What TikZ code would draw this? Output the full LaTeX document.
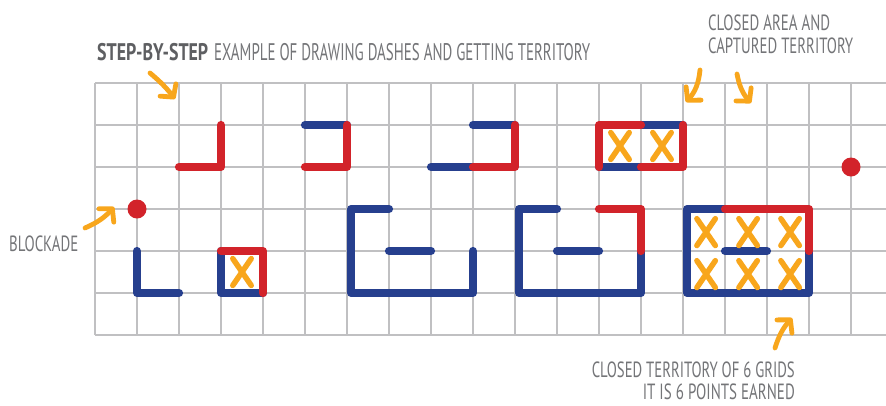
\documentclass[tikz,border=0pt]{standalone}
\usepackage{graphicx}
\usepackage{fontspec}
\setmainfont{PT Sans}
\usetikzlibrary{arrows.meta}
\definecolor{pred}{HTML}{D2232A}
\definecolor{pblue}{HTML}{263F8E}
\definecolor{porange}{HTML}{F8A61C}
\definecolor{gridgray}{HTML}{C0C0C2}
\definecolor{txtgray}{HTML}{747578}
\definecolor{ttlgray}{HTML}{5E5F62}
\begin{document}
\begin{tikzpicture}[x=1pt,y=-1pt,
  gridline/.style={draw=gridgray, line width=1.3pt},
  bl/.style={draw=pblue, line width=8.2pt, line cap=round, line join=round},
  rd/.style={draw=pred, line width=8.2pt, line cap=round, line join=round},
  xmark/.style={draw=porange, line width=5.5pt, line cap=round},
  xm/.pic={\draw[xmark] (-0.22,-0.32) -- (0.22,0.32) (-0.22,0.32) -- (0.22,-0.32);},
  note/.style={font=\fontsize{22}{24}\selectfont, text=txtgray, inner sep=0pt},
  ttl/.style={font=\fontsize{24}{26}\selectfont, inner sep=0pt},
  ann/.style={draw=porange, line width=4.8pt, line cap=round,
    -{Straight Barb[length=9pt,width=20pt,round]}},
  dot/.style={circle, fill=pred, minimum size=19pt, inner sep=0pt}
]
\fill[white] (0,0) rectangle (886,405);
\useasboundingbox (0,0) rectangle (886,405);

\begin{scope}[shift={(95pt,-83pt)}, x=42pt, y=-42pt]
  % grid
  \foreach \c in {0,...,18} \draw[gridline] (\c,0) -- (\c,6);
  \foreach \r in {0,...,6} \draw[gridline] (0,\r) -- (18.84,\r);

  % step 1: red corner
  \draw[rd] (2,2) -- (3,2) -- (3,1);
  % blue L
  \draw[bl] (1,4) -- (1,5) -- (2,5);
  % blockade dot
  \node[dot] (dot1) at (1,3) {};
  % small captured box
  \draw[bl] (3,4) -- (3,5) -- (4,5);
  \draw[rd] (3,4) -- (4,4) -- (4,5);
  \pic (x1) at (3.5,4.5) {xm};

  % step 2
  \draw[bl] (5,1) -- (6,1);
  \draw[rd] (6,1) -- (6,2) -- (5,2);
  % step 3
  \draw[bl] (9,1) -- (10,1);
  \draw[bl] (8,2) -- (9,2);
  \draw[rd] (10,1) -- (10,2) -- (9,2);
  % step 4: two captured cells
  \draw[bl] (13,1) -- (14,1);
  \draw[bl] (12,2) -- (13,2);
  \draw[rd] (13,1) -- (12,1) -- (12,2);
  \draw[rd] (13,2) -- (14,2) -- (14,1);
  \pic (x2) at (12.5,1.5) {xm};
  \pic (x3) at (13.5,1.5) {xm};
  % second dot
  \node[dot] (dot2) at (18,2) {};

  % bottom shape A
  \draw[bl] (7,3) -- (6.1,3) -- (6.1,5) -- (7,5);
  \draw[bl] (7,5) -- (8,5);
  \draw[bl] (8,5) -- (9,5) -- (9,4);
  \draw[bl] (7,4) -- (8,4);
  % bottom shape B
  \draw[bl] (11,3) -- (10.1,3) -- (10.1,5) -- (11,5);
  \draw[bl] (11,5) -- (12,5);
  \draw[bl] (12,5) -- (13,5) -- (13,4);
  \draw[bl] (11,4) -- (12,4);
  \draw[rd] (12,3) -- (13,3) -- (13,4);
  % bottom shape C: six cells
  \draw[bl] (15,3) -- (14.1,3) -- (14.1,5) -- (15,5);
  \draw[bl] (15,5) -- (16,5);
  \draw[bl] (16,5) -- (17,5) -- (17,4);
  \draw[bl] (15,4) -- (16,4);
  \draw[rd] (15,3) -- (16,3);
  \draw[rd] (16,3) -- (17,3) -- (17,4);
  \foreach \i in {14.5,15.5,16.5}
    \foreach \j in {3.5,4.5}
      \pic at (\i+0.05,\j+0.05) {xm};
\end{scope}

% texts
\node[ttl, text=ttlgray, anchor=base west] (t1) at (97,60)
  {\resizebox{111pt}{\height}{\bfseries STEP-BY-STEP}};
\node[ttl, text=txtgray, anchor=base west] (t2) at (214,60)
  {\resizebox{376pt}{\height}{EXAMPLE OF DRAWING DASHES AND GETTING TERRITORY}};
\node[note, anchor=base west] (c1) at (708,30)
  {\resizebox{122pt}{\height}{CLOSED AREA AND}};
\node[note, anchor=base west] (c2) at (708,53)
  {\resizebox{145pt}{\height}{CAPTURED TERRITORY}};
\node[note, anchor=base east] (b1) at (795,377)
  {\resizebox{203pt}{\height}{CLOSED TERRITORY OF 6 GRIDS}};
\node[note, anchor=base east] (b2) at (795,399)
  {\resizebox{152pt}{\height}{IT IS 6 POINTS EARNED}};
\node[note, anchor=base west] (bk) at (9,251)
  {\resizebox{69pt}{\height}{BLOCKADE}};

% annotation arrows
\coordinate (a1s) at (150,73);  \coordinate (a1e) at (175,99);
\coordinate (a2s) at (700,70);  \coordinate (a2e) at (686,102);
\coordinate (a3s) at (737,74);  \coordinate (a3e) at (751,103);
\coordinate (a4s) at (85,228);  \coordinate (a4e) at (114,207);
\coordinate (a5s) at (775,348); \coordinate (a5e) at (792,318);
\draw[ann] (a1s) to[bend left=6] (a1e);
\draw[ann] (a2s) to[bend left=18] (a2e);
\draw[ann] (a3s) to[bend right=15] (a3e);
\draw[ann] (a4s) to[bend right=12] (a4e);
\draw[ann] (a5s) to[bend left=12] (a5e);
\end{tikzpicture}
\end{document}
